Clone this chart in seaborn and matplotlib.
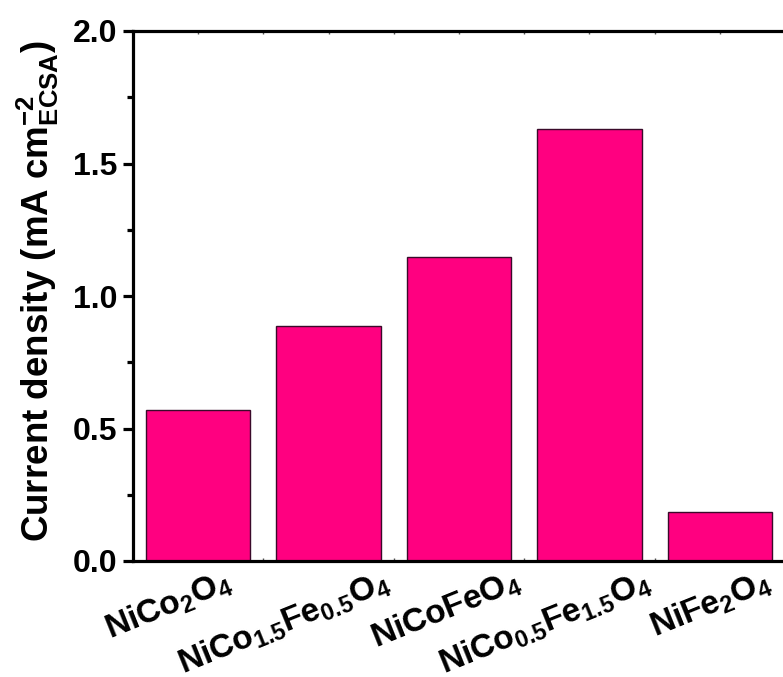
import matplotlib
matplotlib.use("Agg")
import matplotlib.pyplot as plt
from matplotlib import font_manager
from matplotlib.ticker import MultipleLocator, FormatStrFormatter
import matplotlib.transforms as mtransforms
import pandas as pd
import seaborn as sns

# Catalysts and their ECSA-normalised current densities
catalysts = ["NiCo2O4", "NiCo1.5Fe0.5O4", "NiCoFeO4", "NiCo0.5Fe1.5O4", "NiFe2O4"]
tick_labels = [
    r"NiCo$\mathregular{_2}$O$\mathregular{_4}$",
    r"NiCo$\mathregular{_{1.5}}$Fe$\mathregular{_{0.5}}$O$\mathregular{_4}$",
    r"NiCoFeO$\mathregular{_4}$",
    r"NiCo$\mathregular{_{0.5}}$Fe$\mathregular{_{1.5}}$O$\mathregular{_4}$",
    r"NiFe$\mathregular{_2}$O$\mathregular{_4}$",
]
current_density = [0.571, 0.887, 1.148, 1.630, 0.185]

df = pd.DataFrame({"catalyst": catalysts, "j": current_density})

sns.set_theme(style="ticks")
available = {f.name for f in font_manager.fontManager.ttflist}
main_font = "Liberation Sans" if "Liberation Sans" in available else "DejaVu Sans"
plt.rcParams["font.family"] = [main_font, "DejaVu Sans"]
plt.rcParams["font.weight"] = "bold"
plt.rcParams["mathtext.fontset"] = "custom"
plt.rcParams["mathtext.rm"] = f"{main_font}:bold"
plt.rcParams["mathtext.bf"] = f"{main_font}:bold"
for key in ["text.color", "axes.labelcolor", "xtick.color", "ytick.color",
            "axes.edgecolor"]:
    plt.rcParams[key] = "black"

fig = plt.figure(figsize=(7.83, 6.77), dpi=100)
ax = fig.add_axes([133 / 783, 1 - 561 / 677, 652 / 783, 530 / 677])

sns.barplot(data=df, x="catalyst", y="j", ax=ax, color="#FF0080", saturation=1,
            width=0.8, edgecolor="#3a0a2a", linewidth=1.0)

ax.set_xlim(-0.5, 4.5)
ax.set_ylim(0, 2.0)
ax.yaxis.set_major_locator(MultipleLocator(0.5))
ax.yaxis.set_minor_locator(MultipleLocator(0.25))
ax.yaxis.set_major_formatter(FormatStrFormatter("%.1f"))
ax.xaxis.set_minor_locator(MultipleLocator(0.5))

for side in ["left", "bottom", "top", "right"]:
    ax.spines[side].set_linewidth(2.3)
    ax.spines[side].set_color("black")
    ax.spines[side].set_visible(True)

ax.tick_params(axis="y", which="major", direction="out", length=7, width=2.3,
               labelsize=23, pad=4, colors="black")
ax.tick_params(axis="y", which="minor", direction="out", length=4, width=2.3,
               colors="black")
ax.tick_params(axis="x", which="both", direction="in", length=2, width=1,
               top=True, bottom=True, color="#555555", labelcolor="black")
ax.tick_params(axis="x", which="major", labelsize=24, pad=3)

for t in ax.get_yticklabels():
    t.set_fontweight("bold")

ax.set_xticks(range(len(catalysts)))
ax.set_xticklabels(tick_labels, rotation=22, ha="right", va="top",
                   rotation_mode="anchor", fontweight="bold")
# nudge each slanted label to the right of its bar (pixels)
label_shift_px = [26, 54, 54, 54, 44]
for t, dx in zip(ax.get_xticklabels(), label_shift_px):
    shift = mtransforms.ScaledTranslation(dx / 100, 0, fig.dpi_scale_trans)
    t.set_transform(t.get_transform() + shift)

ax.set_xlabel("")
ax.set_ylabel(r"Current density (mA cm$\mathregular{^{-2}_{ECSA}}$)",
              fontsize=26.5, fontweight="bold", color="black")
ax.yaxis.set_label_coords(-0.11, 0.51)

fig.savefig("out.png", dpi=100)
